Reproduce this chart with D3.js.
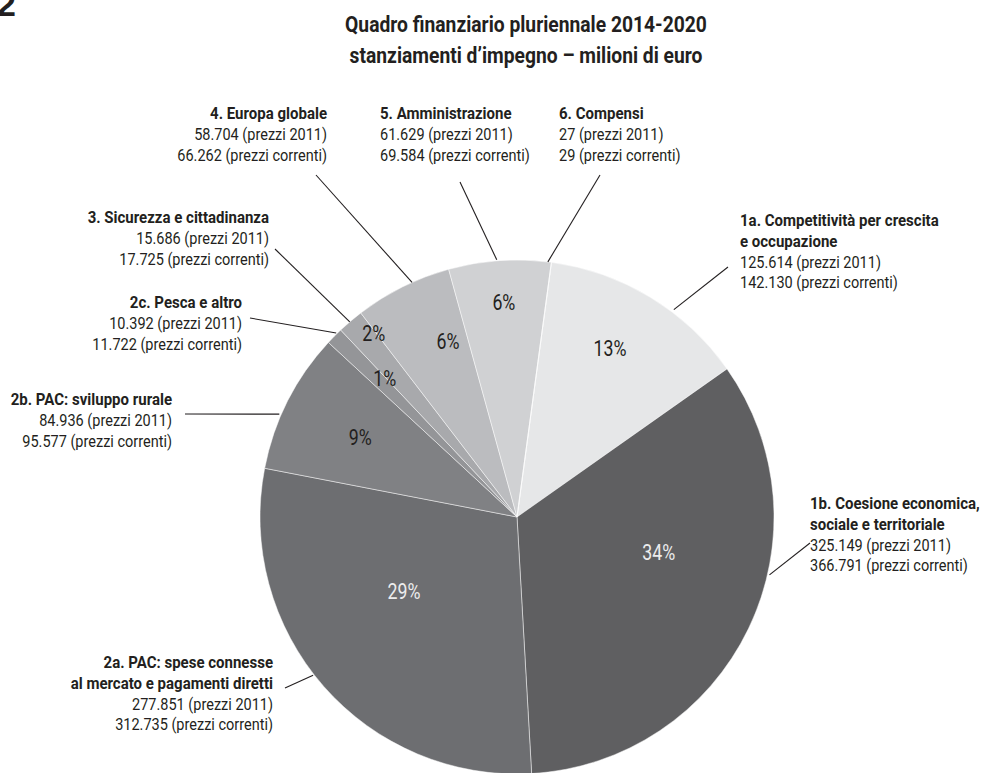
<!DOCTYPE html>
<html>
<head>
<meta charset="utf-8">
<script src="https://cdn.jsdelivr.net/npm/d3@7"></script>
<style>
  html, body { margin: 0; padding: 0; background: #ffffff; }
  svg { display: block; }
  text { font-family: Roboto, "DejaVu Sans Condensed", sans-serif; fill: #231f20; }
</style>
</head>
<body>
<svg id="chart" width="992" height="773"></svg>
<script>
// ---------- data ----------
const categories = [
  ["1a. Competitività per crescita", "e occupazione"],
  ["1b. Coesione economica,", "sociale e territoriale"],
  ["2a. PAC: spese connesse", "al mercato e pagamenti diretti"],
  ["2b. PAC: sviluppo rurale"],
  ["2c. Pesca e altro"],
  ["3. Sicurezza e cittadinanza"],
  ["4. Europa globale"],
  ["5. Amministrazione"],
  ["6. Compensi"]
];
const values2011     = [125614, 325149, 277851, 84936, 10392, 15686, 58704, 61629, 27];
const valuesCorrenti = [142130, 366791, 312735, 95577, 11722, 17725, 66262, 69584, 29];
const sliceColors = ["#e6e7e8", "#5f5f61", "#6d6e71", "#808184", "#949598", "#a8a9ac", "#bbbcbf", "#d0d1d3", "#d9dadb"];
const titleLines = ["Quadro finanziario pluriennale 2014-2020", "stanziamenti d’impegno – milioni di euro"];

// ---------- layout (positions, not data) ----------
const cx = 517, cy = 517, R = 257;
const startDeg = 7.7;
const lineH = 20.8;
const labelBlocks = [
  {x: 740, y: 226, anchor: "start"},
  {x: 810, y: 509, anchor: "start"},
  {x: 273, y: 668, anchor: "end"},
  {x: 172, y: 405, anchor: "end"},
  {x: 242, y: 308, anchor: "end"},
  {x: 269, y: 223, anchor: "end"},
  {x: 327, y: 119, anchor: "end"},
  {x: 380, y: 119, anchor: "start"},
  {x: 559, y: 119, anchor: "start"}
];
const leaders = [
  {x: 728, y: 267, a: 37.1, r: 260},
  {x: 810, y: 543, a: 102.9, r: 259},
  {x: 285, y: 688, a: 232.2, r: 258},
  {x: 185, y: 414, a: 293.4, r: 259},
  {x: 250, y: 318, a: 315.5, r: 258},
  {x: 275, y: 249, a: 319.4, r: 257},
  {x: 316, y: 175, a: 335.9, r: 257},
  {x: 460, y: 182, a: 355.5, r: 258},
  {x: 600, y: 175, a: 6.9, r: 257}
];
const pctPos = [
  {a: 28.8, r: 193}, {a: 104, r: 146}, {a: 236.8, r: 135}, {a: 297, r: 176},
  {a: 316.5, r: 192}, {a: 322.1, r: 233}, {a: 338.6, r: 189}, {a: 356.5, r: 215}, null
];
const pctLight = [false, true, true, false, false, false, false, false, false];

const rad = d => d * Math.PI / 180;
const svg = d3.select("#chart");
const fmt = d3.formatLocale({decimal: ",", thousands: ".", grouping: [3], currency: ["€", ""]}).format(",");

// measure a reference string to find the horizontal condensing factor of a text style
function condense(size, weight, sample, target) {
  const t = svg.append("text").style("font-size", size + "px").style("font-weight", weight).text(sample);
  const w = t.node().getComputedTextLength();
  t.remove();
  return target / w;
}
const sTitle = condense(22, "bold", titleLines[0], 362);
const sBold  = condense(16.5, "bold", "4. Europa globale", 117);
const sReg   = condense(16.5, "normal", "58.704 (prezzi 2011)", 133);
const sPct   = condense(22, "normal", "13%", 33);

// big "2" in the corner
svg.append("text")
  .attr("x", -3).attr("y", 16)
  .style("font-family", "'Liberation Sans', Arial, sans-serif")
  .style("font-weight", "bold").style("font-size", "34px")
  .text("2");

// title
svg.append("g").selectAll("text").data(titleLines).join("text")
  .attr("transform", (d, i) => `translate(526,${32 + i * 31}) scale(${sTitle},1)`)
  .attr("text-anchor", "middle")
  .style("font-weight", "bold").style("font-size", "22px")
  .text(d => d);

const total = d3.sum(values2011);
const pie = d3.pie().sort(null).value(d => d)
  .startAngle(rad(startDeg)).endAngle(rad(startDeg) + 2 * Math.PI);
const arcs = pie(values2011);
const arc = d3.arc().innerRadius(0).outerRadius(R);

const g = svg.append("g").attr("transform", `translate(${cx},${cy})`);
g.selectAll("path").data(arcs).join("path")
  .attr("d", arc)
  .attr("fill", (d, i) => sliceColors[i])
  .attr("stroke", "#ffffff").attr("stroke-width", 0.6).attr("stroke-opacity", 0.8);

// percent labels
g.selectAll("text.pct").data(arcs.filter((d, i) => pctPos[i])).join("text")
  .attr("class", "pct")
  .attr("transform", d => {
    const p = pctPos[d.index];
    const [x, y] = d3.pointRadial(rad(p.a), p.r);
    return `translate(${x},${y}) scale(${sPct},1)`;
  })
  .attr("text-anchor", "middle").attr("dy", "0.36em")
  .style("font-size", "22px")
  .style("fill", d => pctLight[d.index] ? "#ececed" : "#231f20")
  .text(d => Math.round(d.value / total * 100) + "%");

// leader lines
svg.append("g").selectAll("line").data(arcs).join("line")
  .attr("x1", d => leaders[d.index].x).attr("y1", d => leaders[d.index].y)
  .attr("x2", d => cx + d3.pointRadial(rad(leaders[d.index].a), leaders[d.index].r)[0])
  .attr("y2", d => cy + d3.pointRadial(rad(leaders[d.index].a), leaders[d.index].r)[1])
  .attr("stroke", "#231f20").attr("stroke-width", 1.1);

// labels
const lab = svg.append("g").selectAll("g").data(arcs).join("g");
lab.each(function(d) {
  const i = d.index, b = labelBlocks[i];
  const lines = categories[i].map(t => ({t, bold: true}))
    .concat([{t: fmt(values2011[i]) + " (prezzi 2011)", bold: false},
             {t: fmt(valuesCorrenti[i]) + " (prezzi correnti)", bold: false}]);
  d3.select(this).selectAll("text").data(lines).join("text")
    .attr("transform", (l, k) => `translate(${b.x},${b.y + k * lineH}) scale(${l.bold ? sBold : sReg},1)`)
    .attr("text-anchor", b.anchor)
    .style("font-size", "16.5px")
    .style("font-weight", l => l.bold ? "bold" : "normal")
    .text(l => l.t);
});
</script>
</body>
</html>
